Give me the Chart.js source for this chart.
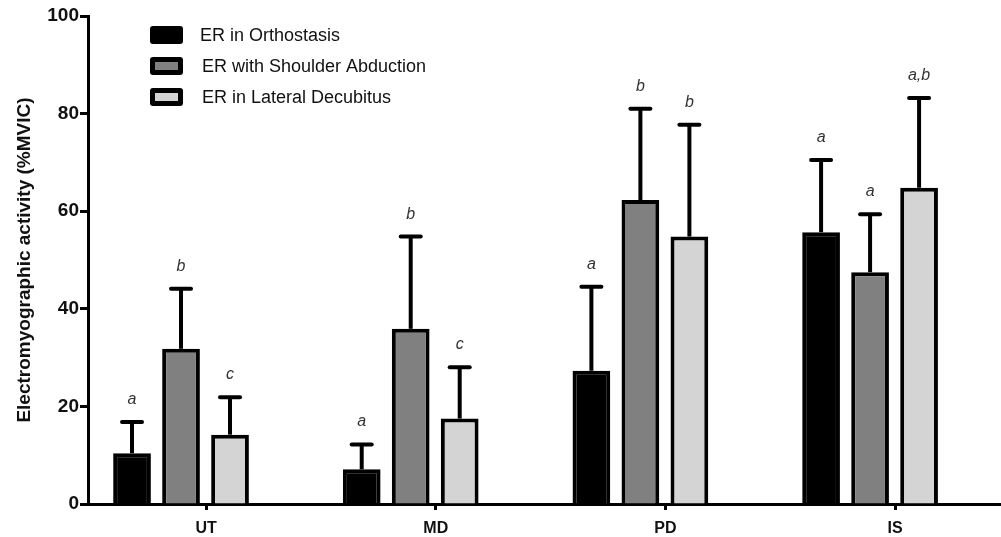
<!doctype html>
<html>
<head>
    <title>EMG activity</title>
    <script src="https://cdn.jsdelivr.net/npm/chart.js@4.4.0/dist/chart.umd.min.js"></script>
    <style>
        html, body { margin: 0; padding: 0; background: #fff; }
        #wrap { width: 1001px; height: 537px; }
    </style>
</head>
<body>
    <div id="wrap"><canvas id="canvas"></canvas></div>
    <script>
        // muscles
        var categories = ['UT', 'MD', 'PD', 'IS'];

        // mean %MVIC
        var orthostasis = [10.4, 7.1, 27.3, 55.7];
        var abduction = [31.8, 35.9, 62.3, 47.5];
        var decubitus = [14.2, 17.5, 54.8, 64.8];

        // standard deviation (upper whisker only)
        var orthostasisSD = [6.4, 5.1, 17.2, 14.8];
        var abductionSD = [12.3, 18.9, 18.7, 11.9];
        var decubitusSD = [7.7, 10.5, 22.9, 18.4];

        // significance letters
        var orthostasisSig = ['a', 'a', 'a', 'a'];
        var abductionSig = ['b', 'b', 'b', 'a'];
        var decubitusSig = ['c', 'c', 'b', 'a,b'];

        var yTicks = [0, 20, 40, 60, 80, 100];
        var seriesNames = ['ER in Orthostasis', 'ER with Shoulder Abduction', 'ER in Lateral Decubitus'];
        var seriesColors = ['#000000', '#808080', '#d4d4d4'];

        var FONT = "'Liberation Sans', Arial, sans-serif";
        var tickShift = 0.109; // x tick sits a bit right of the group centre

        function toPoints(arr) {
            return arr.map(function (v, i) { return { x: i, y: v }; });
        }

        var datasets = [orthostasis, abduction, decubitus].map(function (vals, k) {
            return {
                label: seriesNames[k],
                data: toPoints(vals),
                backgroundColor: seriesColors[k],
                borderColor: '#000',
                borderWidth: 4,
                borderSkipped: 'start',
                sd: [orthostasisSD, abductionSD, decubitusSD][k],
                sig: [orthostasisSig, abductionSig, decubitusSig][k]
            };
        });

        var errorBars = {
            id: 'errorBars',
            afterDatasetsDraw: function (chart) {
                var ctx = chart.ctx;
                var y = chart.scales.y;
                ctx.save();
                chart.data.datasets.forEach(function (ds, k) {
                    var meta = chart.getDatasetMeta(k);
                    meta.data.forEach(function (bar, i) {
                        var top = y.getPixelForValue(ds.data[i].y + ds.sd[i]);
                        ctx.strokeStyle = '#000';
                        ctx.lineWidth = 4;
                        ctx.lineCap = 'butt';
                        ctx.beginPath();
                        ctx.moveTo(bar.x, bar.y);
                        ctx.lineTo(bar.x, top);
                        ctx.stroke();
                        ctx.lineCap = 'round';
                        ctx.beginPath();
                        ctx.moveTo(bar.x - 10, top);
                        ctx.lineTo(bar.x + 10, top);
                        ctx.stroke();
                        ctx.fillStyle = '#333';
                        ctx.font = 'italic 16px ' + FONT;
                        ctx.textAlign = 'center';
                        ctx.textBaseline = 'alphabetic';
                        ctx.fillText(ds.sig[i], bar.x, top - 18);
                    });
                });
                ctx.restore();
            }
        };

        var boxLegend = {
            id: 'boxLegend',
            afterDraw: function (chart) {
                var ctx = chart.ctx;
                var x0 = chart.chartArea.left + 62;
                ctx.save();
                seriesNames.forEach(function (name, k) {
                    var cy = 35 + k * 31;
                    ctx.fillStyle = '#000';
                    ctx.beginPath();
                    ctx.roundRect(x0, cy - 9, 33, 18, 3);
                    ctx.fill();
                    ctx.fillStyle = seriesColors[k];
                    ctx.fillRect(x0 + 5, cy - 4, 23, 8);
                    ctx.fillStyle = '#111';
                    ctx.font = '18px ' + FONT;
                    ctx.textAlign = 'left';
                    ctx.textBaseline = 'middle';
                    ctx.fillText(name, x0 + 50 + (k > 0 ? 2 : 0), cy + 1);
                });
                ctx.restore();
            }
        };

        var ctx = document.getElementById('canvas').getContext('2d');
        window.myBar = new Chart(ctx, {
            type: 'bar',
            data: { datasets: datasets },
            plugins: [errorBars, boxLegend],
            options: {
                responsive: true,
                maintainAspectRatio: false,
                animation: false,
                categoryPercentage: 0.64,
                barPercentage: 0.77,
                layout: { padding: { top: 16, right: 0, bottom: 0, left: 0 } },
                plugins: {
                    legend: { display: false },
                    tooltip: { enabled: false }
                },
                scales: {
                    x: {
                        type: 'linear',
                        offset: false,
                        min: -0.405,
                        max: 3.57,
                        afterBuildTicks: function (scale) {
                            scale.ticks = categories.map(function (c, i) { return { value: i + tickShift }; });
                        },
                        afterFit: function (scale) { scale.height = 33; },
                        ticks: {
                            callback: function (v, i) { return categories[i]; },
                            color: '#111',
                            font: { family: FONT, size: 16, weight: 'bold' },
                            padding: 9,
                            maxRotation: 0
                        },
                        grid: { offset: false, drawOnChartArea: false, drawTicks: true, tickLength: 6, tickWidth: 3, color: '#000' },
                        border: { color: '#000', width: 3 }
                    },
                    y: {
                        min: 0,
                        max: 100,
                        afterBuildTicks: function (scale) {
                            scale.ticks = yTicks.map(function (v) { return { value: v }; });
                        },
                        afterFit: function (scale) { scale.width = 88; },
                        ticks: {
                            color: '#111',
                            font: { family: FONT, size: 19, weight: 'bold' },
                            padding: 1
                        },
                        grid: { drawOnChartArea: false, drawTicks: true, tickLength: 8, tickWidth: 3, color: '#000' },
                        border: { color: '#000', width: 3 },
                        title: {
                            display: true,
                            text: 'Electromyographic activity (%MVIC)',
                            color: '#111',
                            font: { family: FONT, size: 19, weight: 'bold' },
                            padding: { top: 13, bottom: 0 }
                        }
                    }
                }
            }
        });
    </script>
</body>
</html>
